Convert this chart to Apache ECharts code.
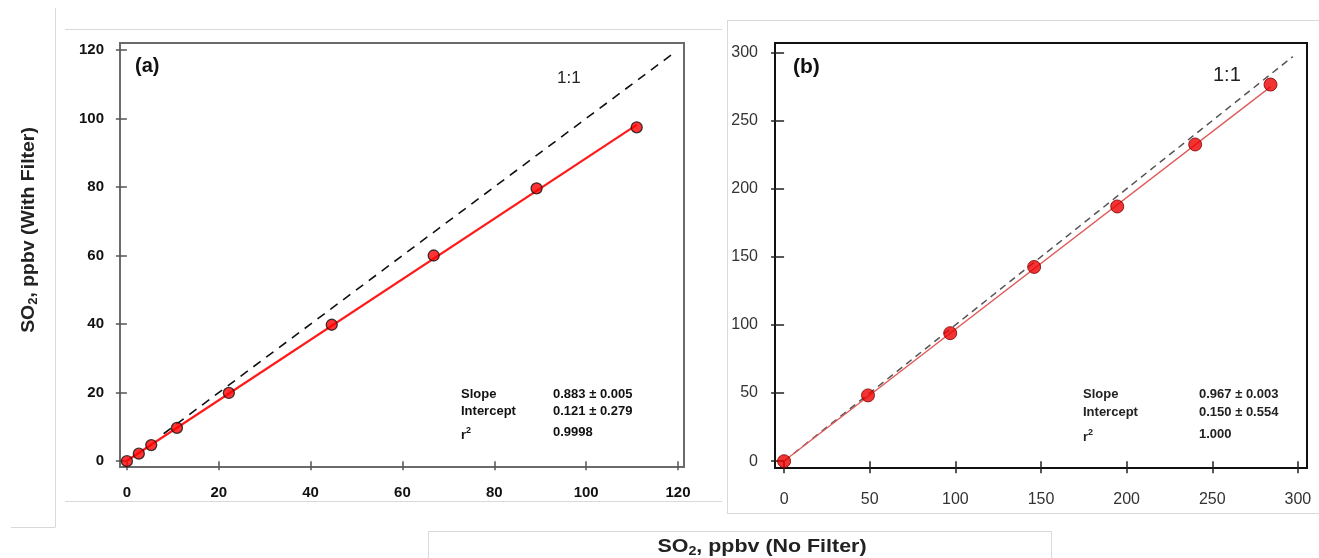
<!DOCTYPE html>
<html><head><meta charset="utf-8">
<script src="https://cdn.jsdelivr.net/npm/echarts@6/dist/echarts.min.js"></script>
<style>html,body{margin:0;padding:0;background:#fff}#c{width:1319px;height:558px}</style>
</head><body><div id="c"></div>
<script>
// Panel (a) data
const aX = [0, 2.6, 5.3, 10.9, 22.2, 44.6, 66.8, 89.2, 111];
const aY = [0, 2.2, 4.7, 9.7, 19.9, 39.8, 60, 79.6, 97.4];
const aFit = [[0, 0.12], [111, 98.1]];
const aOne = [[8, 8], [119, 119]];
const aTicks = [0, 20, 40, 60, 80, 100, 120];
// Panel (b) data
const bX = [0, 49, 97, 146, 194.5, 240, 284];
const bY = [0, 48.3, 94, 142.6, 187, 232.5, 276.5];
const bFit = [[0, 0.15], [284, 274.8]];
const bOne = [[0, 0], [297, 297]];
const bTicks = [0, 50, 100, 150, 200, 250, 300];
const aStats = [['Slope', '0.883 ± 0.005'], ['Intercept', '0.121 ± 0.279'], ['r', '0.9998']];
const bStats = [['Slope', '0.967 ± 0.003'], ['Intercept', '0.150 ± 0.554'], ['r', '1.000']];

const F = '"Liberation Sans", Arial, sans-serif';
const chart = echarts.init(document.getElementById('c'), null, {renderer: 'canvas'});

function pts(xs, ys) { return xs.map((x, i) => [x, ys[i]]); }

function axisCommon(ticks, bold, color, size, tickLen, margin, lineColor) {
  return {
    type: 'value',
    axisLine: {show: false},
    splitLine: {show: false},
    axisTick: {show: true, length: tickLen, customValues: ticks, lineStyle: {color: lineColor, width: 1.5}},
    axisLabel: {customValues: ticks, margin: margin, color: color, fontSize: size, fontFamily: F, fontWeight: bold ? 'bold' : 'normal'}
  };
}

const gray = '#d9d9d9';
function hl(x1, y1, x2, y2) {
  return {type: 'line', shape: {x1, y1, x2, y2}, style: {stroke: gray, lineWidth: 1}, silent: true};
}

function statsGraphic(stats, x1, x2, y0, dy, color) {
  const out = [];
  stats.forEach((s, i) => {
    const y = y0 + i * dy + (i === 2 ? 4 : 0);
    if (s[0] === 'r') {
      out.push({type: 'text', left: x1, top: y, style: {text: '{m|r}{s|2}', rich: {m: {fontSize: 13, fontWeight: 'bold', fontFamily: F, fill: color}, s: {fontSize: 9, fontWeight: 'bold', fontFamily: F, fill: color, verticalAlign: 'top', padding: [0, 0, 10, 0]}}}});
    } else {
      out.push({type: 'text', left: x1, top: y, style: {text: s[0], fontSize: 13, fontWeight: 'bold', fontFamily: F, fill: color}});
    }
    out.push({type: 'text', left: x2, top: y, style: {text: s[1], fontSize: 13, fontWeight: 'bold', fontFamily: F, fill: color}});
  });
  return out;
}

const titleRich = {
  a: {fontSize: 18, fontWeight: 'bold', fontFamily: F, fill: '#222'},
  s: {fontSize: 12, fontWeight: 'bold', fontFamily: F, fill: '#222', padding: [10, 0, 0, 0]}
};

const option = {
  animation: false,
  backgroundColor: '#fff',
  grid: [
    {left: 120, top: 43, width: 564, height: 424, show: true, borderColor: '#6b6b6b', borderWidth: 2, backgroundColor: 'transparent'},
    {left: 775, top: 43, width: 532, height: 425, show: true, borderColor: '#111', borderWidth: 2, backgroundColor: 'transparent'}
  ],
  xAxis: [
    Object.assign(axisCommon(aTicks, true, '#111', 15, 9, 16, '#555'), {gridIndex: 0, min: -1.5, max: 121.3, offset: 2}),
    Object.assign(axisCommon(bTicks, false, '#333', 16, 12, 23, '#222'), {gridIndex: 1, min: -5.3, max: 305.3, offset: 1})
  ],
  yAxis: [
    Object.assign(axisCommon(aTicks, true, '#111', 15, 11, 16, '#555'), {gridIndex: 0, min: -1.7, max: 122}),
    Object.assign(axisCommon(bTicks, false, '#333', 16, 13, 17, '#222'), {gridIndex: 1, min: -5, max: 307})
  ],
  series: [
    {type: 'line', xAxisIndex: 0, yAxisIndex: 0, data: aOne, symbol: 'none', lineStyle: {color: '#111', width: 1.6, type: [9, 7]}, z: 2},
    {type: 'line', xAxisIndex: 0, yAxisIndex: 0, data: aFit, symbol: 'none', lineStyle: {color: '#ff1a1a', width: 2.2}, z: 3},
    {type: 'scatter', xAxisIndex: 0, yAxisIndex: 0, data: pts(aX, aY), symbolSize: 11, itemStyle: {color: '#ff0000', borderColor: '#111', borderWidth: 1.3}, z: 4},
    {type: 'line', xAxisIndex: 1, yAxisIndex: 1, data: bOne, symbol: 'none', lineStyle: {color: '#555', width: 1.5, type: [7, 5]}, z: 2},
    {type: 'line', xAxisIndex: 1, yAxisIndex: 1, data: bFit, symbol: 'none', lineStyle: {color: '#e05a5a', width: 1.3}, z: 3},
    {type: 'scatter', xAxisIndex: 1, yAxisIndex: 1, data: pts(bX, bY), symbolSize: 13, itemStyle: {color: '#ee0000', borderColor: '#7a0000', borderWidth: 1}, z: 4}
  ],
  graphic: [
    hl(65, 29.5, 722, 29.5), hl(65, 501.5, 722, 501.5), hl(55.5, 8, 55.5, 527), hl(11, 527.5, 55.5, 527.5),
    hl(727, 20.5, 1319, 20.5), hl(727.5, 20.5, 727.5, 513), hl(727, 513.5, 1319, 513.5),
    hl(428, 531.5, 1052, 531.5), hl(428.5, 531.5, 428.5, 558), hl(1051.5, 531.5, 1051.5, 558),
    {type: 'text', left: 135, top: 56, style: {text: '(a)', fontSize: 20, fontWeight: 'bold', fontFamily: F, fill: '#111'}},
    {type: 'text', left: 557, top: 70, style: {text: '1:1', fontSize: 17, fontFamily: F, fill: '#222'}},
    {type: 'text', left: 793, top: 57, style: {text: '(b)', fontSize: 21, fontWeight: 'bold', fontFamily: F, fill: '#111'}},
    {type: 'text', left: 1213, top: 65, style: {text: '1:1', fontSize: 20, fontFamily: F, fill: '#222'}},
    ...statsGraphic(aStats, 461, 553, 388, 17, '#111'),
    ...statsGraphic(bStats, 1083, 1199, 388, 18, '#222'),
    {type: 'text', x: 762, y: 547, scaleX: 1.19, style: {text: '{a|SO}{s|2}{a|, ppbv (No Filter)}', align: 'center', verticalAlign: 'middle', rich: titleRich}},
    {type: 'text', x: 29, y: 230, rotation: Math.PI / 2, scaleX: 1.08, style: {text: '{a|SO}{s|2}{a|, ppbv (With Filter)}', align: 'center', verticalAlign: 'middle', rich: titleRich}}
  ]
};
chart.setOption(option);
</script></body></html>
